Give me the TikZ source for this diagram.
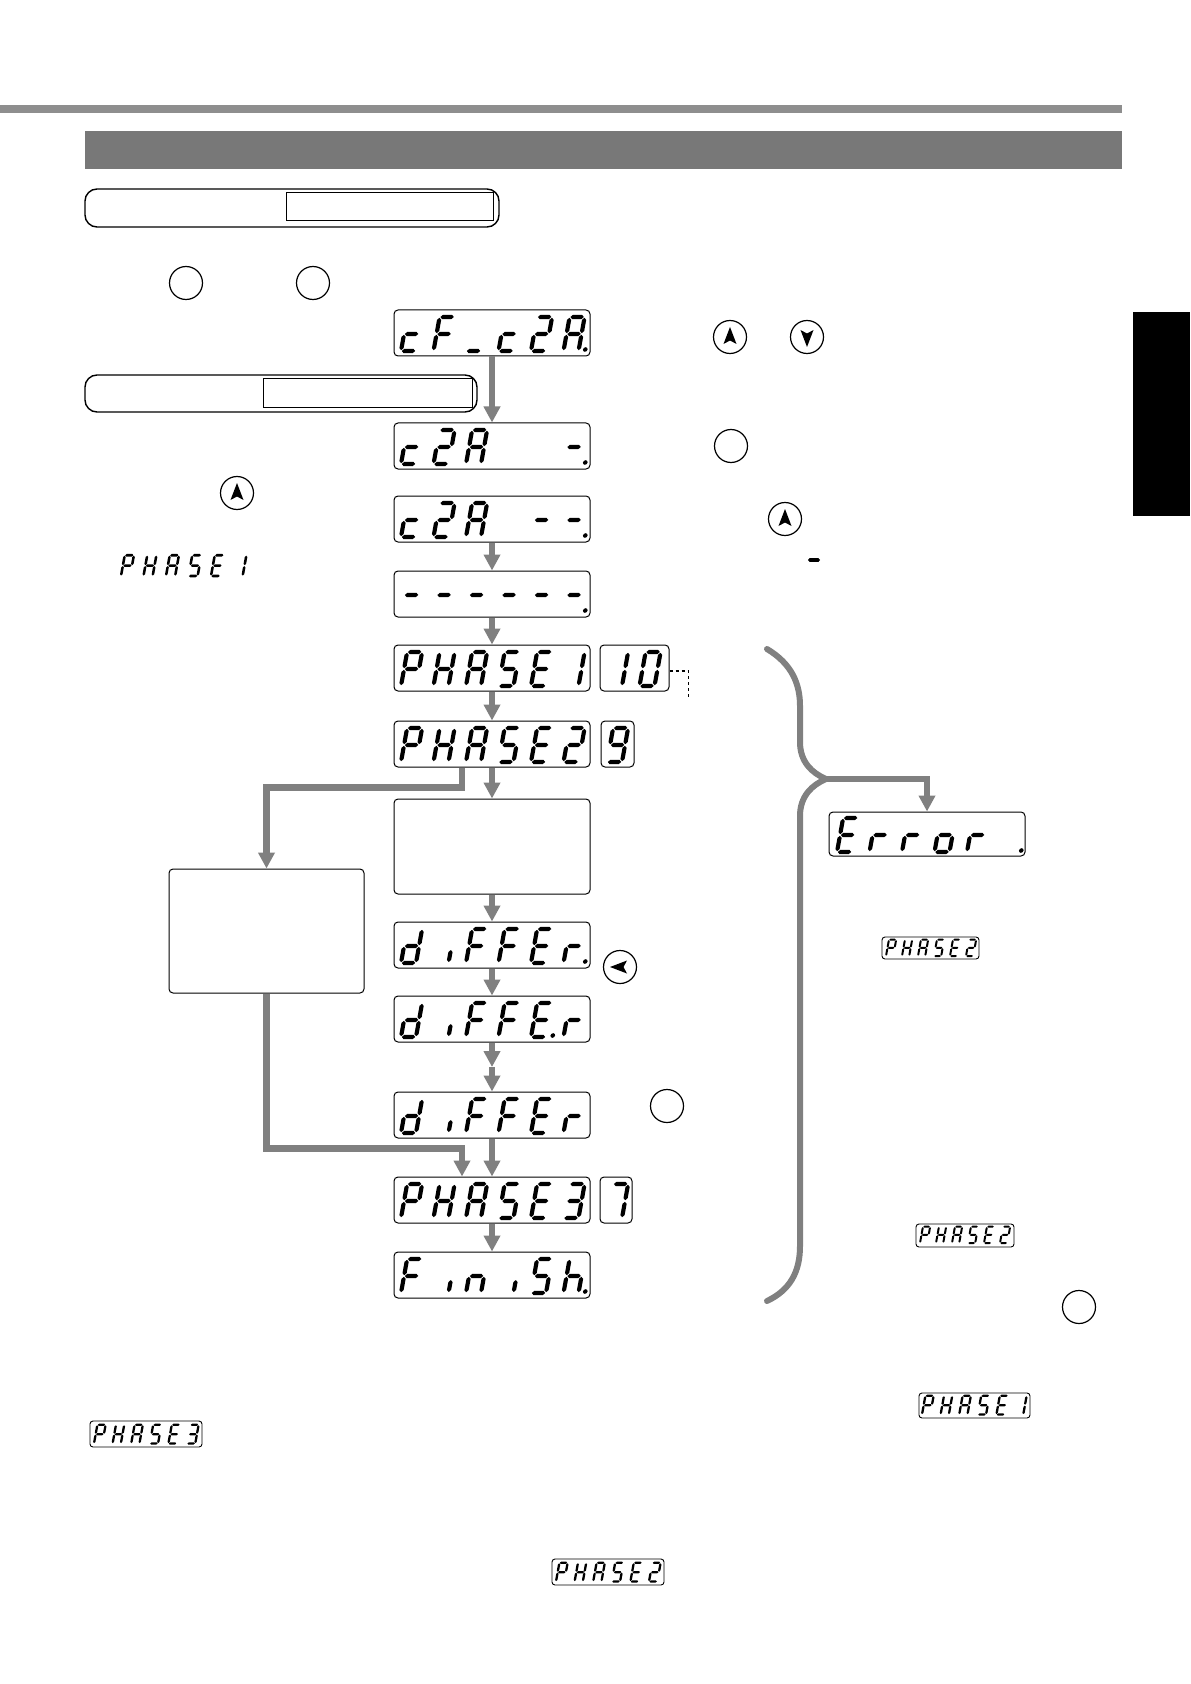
\documentclass[tikz,border=0pt]{standalone}
\usetikzlibrary{arrows.meta}
\definecolor{flowgray}{RGB}{128,128,128}
\definecolor{bannergray}{RGB}{120,120,120}
\definecolor{linegray}{RGB}{142,142,142}
% seven segment pieces (local px units, origin = bottom-left, y downward)
\newcommand\hsg[3]{\fill (#1,#3) -- (#1+2.1,#3-2.1) -- (#2-2.1,#3-2.1) -- (#2,#3) -- (#2-2.1,#3+2.1) -- (#1+2.1,#3+2.1) -- cycle;}
\newcommand\vsg[3]{\fill (#1,#2) -- (#1+2.1,#2+2.1) -- (#1+2.1,#3-2.1) -- (#1,#3) -- (#1-2.1,#3-2.1) -- (#1-2.1,#2+2.1) -- cycle;}
\def\sgXa{\hsg{0.8}{14.2}{-34}}
\def\sgXg{\hsg{0.8}{14.2}{-17}}
\def\sgXd{\hsg{0.8}{14.2}{0}}
\def\sgXf{\vsg{0}{-33.2}{-17.8}}
\def\sgXe{\vsg{0}{-16.2}{-0.8}}
\def\sgXb{\vsg{15}{-33.2}{-17.8}}
\def\sgXc{\vsg{15}{-16.2}{-0.8}}
\def\sgXi{\vsg{15}{-13}{-1}}
\def\sgXp{\fill (21.5,-1.5) circle (2.3);}
% characters
\def\gc{d,e,g}
\def\gF{a,e,f,g}
\def\gU{d}
\def\gTwo{a,b,d,e,g}
\def\gA{a,b,c,e,f,g}
\def\gAp{a,b,c,e,f,g,p}
\def\gM{g}
\def\gMp{g,p}
\def\gP{a,b,e,f,g}
\def\gH{b,c,e,f,g}
\def\gS{a,c,d,f,g}
\def\gE{a,d,e,f,g}
\def\gEp{a,d,e,f,g,p}
\def\gOne{b,c}
\def\gThree{a,b,c,d,g}
\def\gZero{a,b,c,d,e,f}
\def\gNine{a,b,c,d,f,g}
\def\gSeven{a,b,c}
\def\gd{b,c,d,e,g}
\def\gi{i}
\def\gr{e,g}
\def\grp{e,g,p}
\def\go{c,d,e,g}
\def\gn{c,e,g}
\def\ghp{c,e,f,g,p}
\def\gBl{z}
\def\gBlp{p}
% #1 x0, #2 baseline, #3 scale, #4 pitch, #5 characters
\newcommand\glyphs[5]{%
  \foreach \cc [count=\ci from 0] in {#5} {%
    \edef\seglist{\cc}%
    \begin{scope}[shift={(#1+\ci*#4,#2)}, scale=#3, xslant=0.18]
      \foreach \sg in \seglist {\csname sgX\sg\endcsname}
    \end{scope}
  }%
}
\tikzset{
  disp/.style={draw, rounded corners=2pt, line width=0.5pt, minimum width=98pt, minimum height=23pt, inner sep=0pt},
  smalldisp/.style={draw, rounded corners=2pt, line width=0.5pt, minimum height=23pt, inner sep=0pt},
  minidisp/.style={draw, rounded corners=1.5pt, line width=0.45pt, inner sep=0pt},
  plainbox/.style={draw, rounded corners=2pt, line width=0.5pt, inner sep=0pt},
  keycirc/.style={circle, draw, line width=0.6pt, minimum size=16.5pt, inner sep=0pt},
  flow/.style={draw=flowgray, line width=3.3pt, -{Triangle[width=8pt,length=8pt]}},
  bracestyle/.style={draw=flowgray, line width=3pt, line cap=round},
  dotline/.style={draw, line width=0.6pt, dash pattern=on 1.5pt off 1.5pt},
  arrowglyph/.pic={\fill (0,-10) -- (6.5,7) -- (0,3.5) -- (-6.5,7) -- cycle;}
}
\begin{document}
\begin{tikzpicture}[x=0.5pt, y=-0.5pt]
\useasboundingbox (0,0) rectangle (1190,1684);
\fill[white] (0,0) rectangle (1190,1684);
% header
\fill[linegray] (0,105) rectangle (1122,113);
\fill[bannergray] (85,131) rectangle (1122,169);
% side tab
\fill[black] (1133,312) rectangle (1190,516);
% label boxes
\node[draw, rounded corners=6pt, line width=0.7pt, minimum width=207pt, minimum height=19pt, inner sep=0pt] (hb1) at (292,208) {};
\node[draw, line width=0.5pt, minimum width=103.5pt, minimum height=14pt, inner sep=0pt] (hb1in) at (389.5,207) {};
\node[draw, rounded corners=6pt, line width=0.7pt, minimum width=196pt, minimum height=18.5pt, inner sep=0pt] (hb2) at (281,393.5) {};
\node[draw, line width=0.5pt, minimum width=104.5pt, minimum height=14.5pt, inner sep=0pt] (hb2in) at (367.5,393.5) {};
% key circles
\node[keycirc] (k1) at (186,283) {};
\node[keycirc] (k2) at (313,283) {};
\node[keycirc] (kup1) at (730,337) {};
\pic at (kup1) {arrowglyph};
\node[keycirc] (kdn1) at (807,337) {};
\pic[rotate=180] at (kdn1) {arrowglyph};
\node[keycirc] (k3) at (731,446) {};
\node[keycirc] (kup2) at (237,493) {};
\pic at (kup2) {arrowglyph};
\node[keycirc] (kup3) at (785,519) {};
\pic at (kup3) {arrowglyph};
\node[keycirc] (kleft) at (620,967) {};
\pic[rotate=90] at (kleft) {arrowglyph};
\node[keycirc] (k4) at (667,1106) {};
\node[keycirc] (k5) at (1079,1307) {};
% small dash
\fill (808,560) -- (809.6,558.1) -- (818.4,558.1) -- (820,560) -- (818.4,561.9) -- (809.6,561.9) -- cycle;
% unboxed PHASE1
\glyphs{121}{576}{0.61}{22.5}{\gP,\gH,\gA,\gS,\gE,\gOne}
% main displays
\node[disp] (d1) at (492,333) {};
\glyphs{401}{351}{1}{32.5}{\gc,\gF,\gU,\gc,\gTwo,\gAp}
\node[disp] (d2) at (492,446) {};
\glyphs{401}{464}{1}{32.5}{\gc,\gTwo,\gA,\gBl,\gBl,\gMp}
\node[disp] (d3) at (492,519) {};
\glyphs{401}{537}{1}{32.5}{\gc,\gTwo,\gA,\gBl,\gM,\gMp}
\node[disp] (d4) at (492,594) {};
\glyphs{401}{612}{1}{32.5}{\gM,\gM,\gM,\gM,\gM,\gMp}
\node[disp] (d5) at (492,668) {};
\glyphs{401}{686}{1}{32.5}{\gP,\gH,\gA,\gS,\gE,\gOne}
\node[smalldisp, minimum width=34.5pt] (b10) at (634.5,668) {};
\glyphs{607}{686}{1}{32.5}{\gOne,\gZero}
\node[disp] (d6) at (492,744) {};
\glyphs{401}{762}{1}{32.5}{\gP,\gH,\gA,\gS,\gE,\gTwo}
\node[smalldisp, minimum width=16.5pt] (b9) at (617.5,744) {};
\glyphs{607}{762}{1}{32.5}{\gNine}
\node[plainbox, minimum width=98pt, minimum height=47.5pt] (mid) at (492,846.5) {};
\node[plainbox, minimum width=97.5pt, minimum height=62pt] (lb) at (266.5,931) {};
\node[disp] (d7) at (492,945) {};
\glyphs{401}{963}{1}{32.5}{\gd,\gi,\gF,\gF,\gE,\grp}
\node[disp] (d8) at (492,1019) {};
\glyphs{401}{1037}{1}{32.5}{\gd,\gi,\gF,\gF,\gEp,\gr}
\node[disp] (d9) at (492,1115) {};
\glyphs{401}{1133}{1}{32.5}{\gd,\gi,\gF,\gF,\gE,\gr}
\node[disp] (d10) at (492,1200) {};
\glyphs{401}{1218}{1}{32.5}{\gP,\gH,\gA,\gS,\gE,\gThree}
\node[smalldisp, minimum width=16pt] (b7) at (616,1200) {};
\glyphs{607}{1218}{1}{32.5}{\gSeven}
\node[disp] (d11) at (492,1275) {};
\glyphs{401}{1293}{1}{32.5}{\gF,\gi,\gn,\gi,\gS,\ghp}
\node[disp, minimum height=22pt] (err) at (927,834) {};
\glyphs{837}{852}{1}{32.5}{\gE,\gr,\gr,\go,\gr,\gBlp}
% mini displays
\node[minidisp, minimum width=48.5pt, minimum height=11pt] (mp2a) at (930.5,948) {};
\glyphs{886}{956}{0.48}{16}{\gP,\gH,\gA,\gS,\gE,\gTwo}
\node[minidisp, minimum width=49pt, minimum height=11.5pt] (mp2b) at (965,1235.5) {};
\glyphs{920}{1243}{0.48}{16}{\gP,\gH,\gA,\gS,\gE,\gTwo}
\node[minidisp, minimum width=55.5pt, minimum height=12.5pt] (mp1) at (974.5,1405.5) {};
\glyphs{922}{1414.5}{0.55}{18.6}{\gP,\gH,\gA,\gS,\gE,\gOne}
\node[minidisp, minimum width=56pt, minimum height=13pt] (mp3) at (146,1434) {};
\glyphs{94}{1443.5}{0.55}{18.6}{\gP,\gH,\gA,\gS,\gE,\gThree}
\node[minidisp, minimum width=56pt, minimum height=13pt] (mp2c) at (608,1572) {};
\glyphs{556}{1581.5}{0.55}{18.6}{\gP,\gH,\gA,\gS,\gE,\gTwo}
% connectors
\draw[flow] (d1.south) -- (d2.north);
\draw[flow] (d3.south) -- (d4.north);
\draw[flow] (d4.south) -- (d5.north);
\draw[flow] (d5.south) -- (d6.north);
\draw[flow] (d6.south) -- (mid.north);
\draw[flow] ([xshift=-15pt]d6.south) -- ++(0,20) -| (lb.north);
\draw[flow] (mid.south) -- (d7.north);
\draw[flow] (d7.south) -- (d8.north);
\coordinate (m89) at (492,1067);
\draw[flow] (d8.south) -- (m89);
\draw[flow] (m89) -- (d9.north);
\draw[flow] (d9.south) -- (d10.north);
\draw[flow] (lb.south) -- ++(0,155) -| ([xshift=-15pt]d10.north);
\draw[flow] (d10.south) -- (d11.north);
% dotted lead from 10
\draw[dotline] ([yshift=-1.5pt]b10.east) -- ++(19,0) -- ++(0,26);
% brace and error branch
\draw[bracestyle] (767,649) .. controls (792,664) and (800,684) .. (800,706) -- (800,742) .. controls (800,762) and (812,773) .. (826,779) .. controls (812,785) and (800,796) .. (800,816) -- (800,1246) .. controls (800,1272) and (790,1290) .. (767,1301);
\coordinate (btip) at (824,779);
\draw[flow] (btip) -| (err.north);
\end{tikzpicture}
\end{document}
